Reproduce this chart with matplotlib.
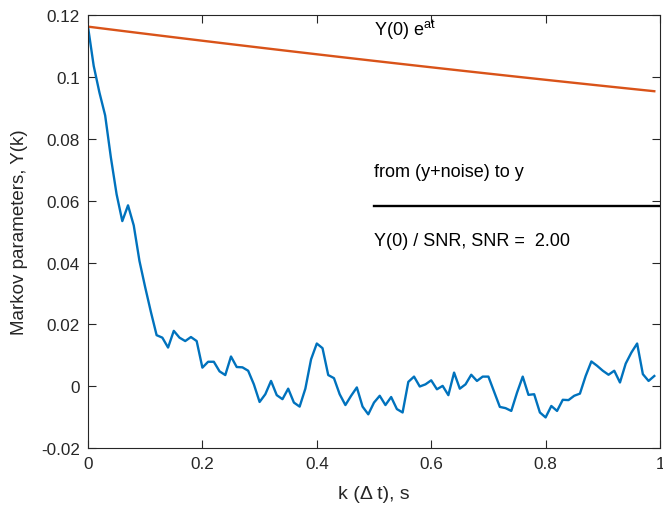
"""Markov parameters of a noisy response vs. exponential envelope."""

import numpy as np
import matplotlib.pyplot as plt

plt.rcParams["font.family"] = ["Liberation Sans", "DejaVu Sans"]
plt.rcParams["mathtext.fontset"] = "custom"
plt.rcParams["mathtext.rm"] = "Liberation Sans"
plt.rcParams["mathtext.it"] = "Liberation Sans"

# sample times k*dt, dt = 0.01 s
dt = 0.01
markov = [
    0.1163, 0.1036, 0.0950, 0.0876, 0.0740, 0.0621, 0.0534, 0.0585, 0.0520, 0.0405,
    0.0320, 0.0240, 0.0165, 0.0157, 0.0125, 0.0179, 0.0157, 0.0146, 0.0159, 0.0146,
    0.0060, 0.0079, 0.0079, 0.0048, 0.0036, 0.0096, 0.0062, 0.0061, 0.0050, 0.0006,
    -0.0051, -0.0026, 0.0017, -0.0029, -0.0042, -0.0008, -0.0053, -0.0066, -0.0008, 0.0087,
    0.0138, 0.0123, 0.0036, 0.0026, -0.0026, -0.0061, -0.0031, -0.0004, -0.0066, -0.0091,
    -0.0053, -0.0031, -0.0061, -0.0035, -0.0074, -0.0085, 0.0014, 0.0031, -0.0001, 0.0006,
    0.0019, -0.0010, 0.0001, -0.0029, 0.0044, -0.0008, 0.0006, 0.0037, 0.0017, 0.0031,
    0.0031, -0.0018, -0.0067, -0.0071, -0.0080, -0.0021, 0.0031, -0.0028, -0.0026, -0.0085,
    -0.0101, -0.0064, -0.0080, -0.0044, -0.0045, -0.0031, -0.0024, 0.0033, 0.0080, 0.0066,
    0.0050, 0.0037, 0.0050, 0.0012, 0.0073, 0.0109, 0.0138, 0.0039, 0.0017, 0.0033,
]
decay_rate = -0.2
snr = 2.0

xticks = [0, 0.2, 0.4, 0.6, 0.8, 1]
xticklabels = ["0", "0.2", "0.4", "0.6", "0.8", "1"]
yticks = [-0.02, 0, 0.02, 0.04, 0.06, 0.08, 0.1, 0.12]
yticklabels = ["-0.02", "0", "0.02", "0.04", "0.06", "0.08", "0.1", "0.12"]

k = np.arange(len(markov)) * dt
y0 = markov[0]
envelope = y0 * np.exp(decay_rate * k)
noise_level = y0 / snr

fig = plt.figure(figsize=(6.63, 5.06), dpi=100)
ax = fig.add_axes([0.1327, 0.1126, 0.8628, 0.8554])

ax.plot(k, markov, color="#0072BD", lw=1.7)
ax.plot(k, envelope, color="#D95319", lw=1.7)
ax.plot([0.5, 1.0], [noise_level, noise_level], color="black", lw=1.7)

txt = dict(fontsize=13, color="black", ha="left", va="center")
ax.text(0.5, 0.1155, r"Y(0) e$^{\mathrm{at}}$", **txt)
ax.text(0.5, 0.0695, "from (y+noise) to y", **txt)
ax.text(0.5, 0.0470, "Y(0) / SNR, SNR =  %.2f" % snr, **txt)

ax.set_xlim(0, 1)
ax.set_ylim(-0.02, 0.12)
ax.set_xticks(xticks)
ax.set_xticklabels(xticklabels)
ax.set_yticks(yticks)
ax.set_yticklabels(yticklabels)
ax.tick_params(direction="in", length=6, width=0.8, top=True, right=True,
               labelsize=12.3, colors="#262626", pad=6)
for s in ax.spines.values():
    s.set_color("#262626")
    s.set_linewidth(0.8)

ax.set_xlabel("k (\u0394 t), s", fontsize=14, color="#262626", labelpad=10)
ax.set_ylabel("Markov parameters, Y(k)", fontsize=13.5, color="#262626", labelpad=9)

fig.savefig("out.png", dpi=100)
plt.close(fig)
